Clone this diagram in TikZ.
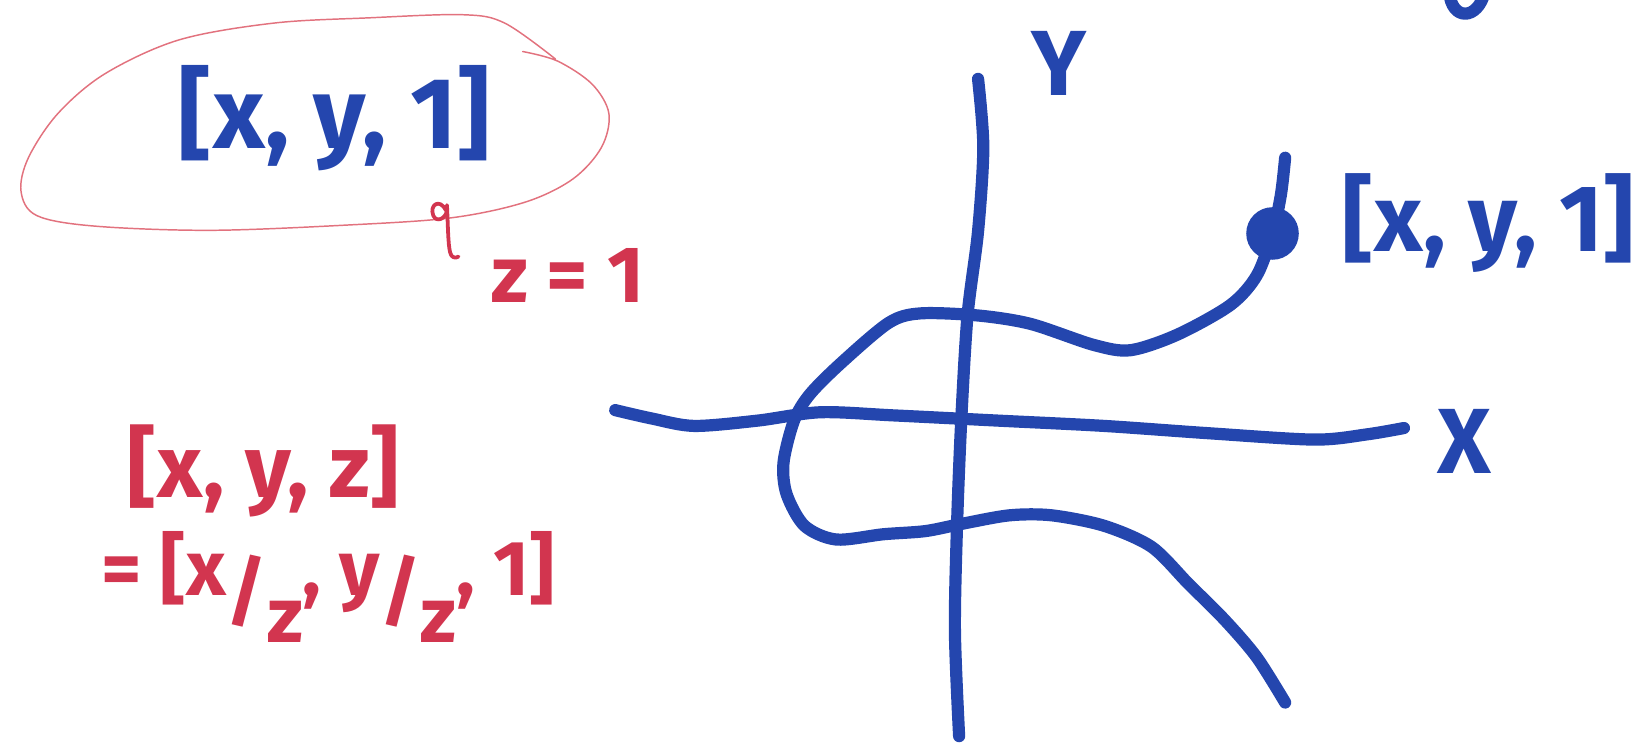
\documentclass[tikz,border=0pt]{standalone}
\usepackage{fontspec}
\setmainfont{Fira Sans}
\definecolor{inkblue}{HTML}{2446AE}
\definecolor{inkred}{HTML}{D2354F}
\definecolor{inkpink}{HTML}{E2727E}
\begin{document}
\begin{tikzpicture}[x=0.5pt,y=-0.5pt,
  blueink/.style={draw=inkblue,line width=5.8pt,line cap=round,line join=round},
  redink/.style={draw=inkred,line width=1.8pt,line cap=round,line join=round},
  loopink/.style={draw=inkpink,line width=0.7pt,line cap=round},
  btext/.style={text=inkblue,inner sep=0pt,font=\fontsize{#1}{#1}\selectfont\bfseries},
  rtext/.style={text=inkred,inner sep=0pt,font=\fontsize{#1}{#1}\selectfont\bfseries}]
\useasboundingbox (0,0) rectangle (1568,706);

% pink loop around the first vector
\draw[loopink] plot[smooth,tension=0.55] coordinates {(497,49) (530,58) (563,80) (579,108) (572,140) (545,170) (500,192) (430,207) (330,214) (200,219) (90,215) (35,205) (20,182) (27,150) (55,108) (100,70) (170,38) (260,22) (350,17) (440,14) (480,22) (528,56)};

% texts
\node[btext=48] (v1) at (318,112) {[x, y, 1]};
\node[rtext=38] (z1) at (540,262) {z = 1};
\node[rtext=42] (v2) at (250,448) {[x, y, z]};
\node[rtext=37] (v3) at (312,558) {= [x\raisebox{-0.3em}{/}\raisebox{-0.6em}{z}, y\raisebox{-0.3em}{/}\raisebox{-0.6em}{z}, 1]};
\node[btext=44] (ylab) at (1007,60) {Y};
\node[btext=44] (xlab) at (1392,420) {X};
\node[btext=45] (v4) at (1415,212) {[x, y, 1]};

% small red hook under the loop
\draw[redink] (424,200) .. controls (418,188) and (408,195) .. (412,205) .. controls (415,212) and (424,208) .. (425,200);
\draw[redink] (425,195) .. controls (426,215) and (426,232) .. (428,240) .. controls (429,245) and (433,246) .. (436,244);

% axes
\draw[blueink] plot[smooth] coordinates {(930,75) (935,140) (930,220) (920,300) (914,400) (910,500) (908,600) (912,700)};
\draw[blueink] plot[smooth] coordinates {(585,390) (620,398) (660,405) (720,400) (780,392) (850,395) (950,400) (1050,405) (1150,412) (1250,418) (1300,413) (1335,407)};

% curve
\node[circle,fill=inkblue,inner sep=0pt,minimum size=25] (pt) at (1210,222) {};
\draw[blueink] plot[smooth] coordinates {(1222,150) (1218,185) (1210,222) (1195,262) (1170,290) (1120,318) (1075,333) (1040,328) (980,308) (930,300) (875,298) (845,307) (800,345) (770,375) (755,400) (745,440) (748,470) (765,500) (795,513) (840,508) (880,505) (915,498) (960,490) (1000,490) (1050,500) (1095,520) (1130,555) (1165,590) (1195,625) (1222,668)};

% partial stroke at the top right
\draw[blueink] (1378,-8) .. controls (1380,20) and (1405,20) .. (1412,-8);
\end{tikzpicture}
\end{document}
